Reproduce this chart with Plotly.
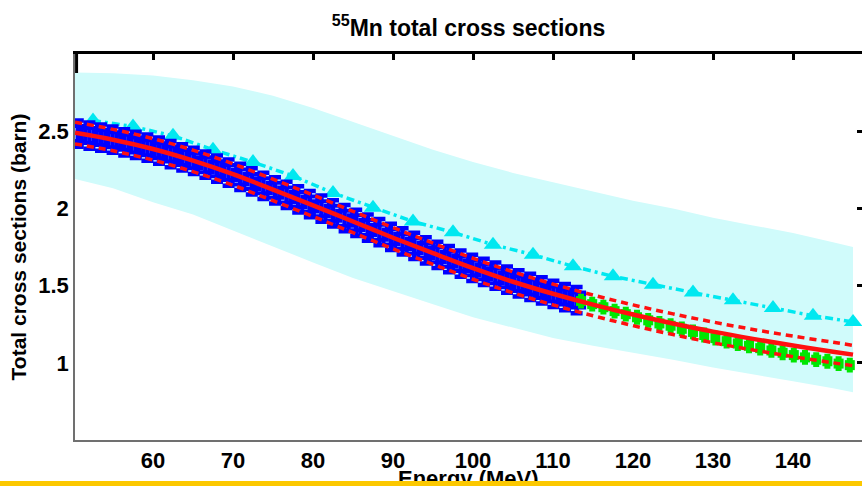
import plotly.graph_objects as go

# ---------------- data ----------------
band_E = [50.25, 55, 60, 65, 70, 75, 80, 85, 90, 95, 100, 105, 110, 115, 120, 125, 130, 135, 140, 145, 147.5]
band_upper = [2.88, 2.875, 2.86, 2.83, 2.79, 2.73, 2.65, 2.56, 2.47, 2.38, 2.30, 2.23, 2.17, 2.11, 2.05,
              2.00, 1.94, 1.89, 1.84, 1.78, 1.75]
band_lower = [2.19, 2.13, 2.04, 1.96, 1.855, 1.755, 1.65, 1.55, 1.465, 1.38, 1.295, 1.225, 1.16, 1.11,
              1.065, 1.02, 0.97, 0.925, 0.88, 0.835, 0.81]

red_E = [50.25, 55, 60, 65, 70, 75, 80, 85, 90, 95, 100, 105, 110, 115, 120, 125, 130, 135, 140, 145, 147.5]
red_mid = [2.49, 2.445, 2.385, 2.31, 2.222, 2.122, 2.02, 1.915, 1.81, 1.71, 1.613, 1.525, 1.447, 1.377,
           1.313, 1.255, 1.202, 1.155, 1.112, 1.072, 1.053]
red_up = [2.558, 2.512, 2.452, 2.377, 2.289, 2.189, 2.087, 1.981, 1.876, 1.775, 1.677, 1.589, 1.510,
          1.439, 1.375, 1.317, 1.264, 1.216, 1.173, 1.133, 1.113]
red_lo = [2.418, 2.373, 2.313, 2.238, 2.15, 2.05, 1.948, 1.843, 1.738, 1.638, 1.541, 1.453, 1.375,
          1.305, 1.241, 1.183, 1.130, 1.083, 1.040, 1.000, 0.981]

tri_E = [52.5, 57.5, 62.5, 67.5, 72.5, 77.5, 82.5, 87.5, 92.5, 97.5, 102.5, 107.5, 112.5, 117.5,
         122.5, 127.5, 132.5, 137.5, 142.5, 147.5]
tri_v = [2.57, 2.53, 2.47, 2.38, 2.30, 2.21, 2.10, 2.005, 1.915, 1.845, 1.765, 1.70, 1.625, 1.56,
         1.505, 1.455, 1.405, 1.355, 1.305, 1.265]

blue_E = [50.6, 52.05, 53.5, 54.95, 56.4, 57.85, 59.3, 60.75, 62.2, 63.65, 65.1, 66.55, 68.0, 69.45,
          70.9, 72.35, 73.8, 75.25, 76.7, 78.15, 79.6, 81.05, 82.5, 83.95, 85.4, 86.85, 88.3, 89.75,
          91.2, 92.65, 94.1, 95.55, 97.0, 98.45, 99.9, 101.35, 102.8, 104.25, 105.7, 107.15, 108.6,
          110.05, 111.5, 112.95]
blue_v = [2.485, 2.472, 2.459, 2.445, 2.428, 2.411, 2.393, 2.374, 2.352, 2.330, 2.308, 2.283, 2.257,
          2.232, 2.204, 2.175, 2.146, 2.117, 2.087, 2.058, 2.028, 1.998, 1.968, 1.937, 1.907, 1.876,
          1.846, 1.815, 1.786, 1.757, 1.728, 1.699, 1.671, 1.643, 1.615, 1.589, 1.564, 1.538, 1.514,
          1.491, 1.469, 1.446, 1.426, 1.406]
blue_err = 0.085

green_E = [113.5, 114.9, 116.3, 117.7, 119.1, 120.5, 121.9, 123.3, 124.7, 126.1, 127.5, 128.9, 130.3,
           131.7, 133.1, 134.5, 135.9, 137.3, 138.7, 140.1, 141.5, 142.9, 144.3, 145.7, 147.1]
green_v = [1.40, 1.38, 1.36, 1.335, 1.315, 1.295, 1.275, 1.255, 1.24, 1.22, 1.20, 1.18, 1.16, 1.14,
           1.125, 1.11, 1.095, 1.08, 1.065, 1.05, 1.035, 1.02, 1.01, 0.995, 0.985]
green_err = 0.035

x_ticks = [60, 70, 80, 90, 100, 110, 120, 130, 140]
y_ticks = [1, 1.5, 2, 2.5]
y_ticktext = ["1", "1.5", "2", "2.5"]
XR = [50.25, 148.625]
YR = [0.5, 3.0]

FONT = "Liberation Sans, Arial, Helvetica, sans-serif"
CYAN = "#00e8f0"
BLUE = "#0000ff"
GREEN = "#00e600"
RED = "#ff1010"

fig = go.Figure()

# uncertainty band
fig.add_trace(go.Scatter(
    x=band_E + band_E[::-1], y=band_upper + band_lower[::-1],
    fill="toself", fillcolor="#d0fbfb", line=dict(width=0), mode="lines",
    hoverinfo="skip"))

# cyan dash-dot with triangles
fig.add_trace(go.Scatter(
    x=tri_E, y=tri_v, mode="lines+markers",
    line=dict(color=CYAN, width=3.5, dash="8px,4px,3px,4px"),
    marker=dict(symbol="triangle-up", size=16, color=CYAN)))

# blue experimental data
fig.add_trace(go.Scatter(
    x=blue_E, y=blue_v, mode="markers",
    marker=dict(symbol="square-open", size=15, color=BLUE, line=dict(width=4, color=BLUE)),
    error_y=dict(type="constant", value=blue_err, color=BLUE, thickness=4.5, width=6)))

# green experimental data
fig.add_trace(go.Scatter(
    x=green_E, y=green_v, mode="markers",
    marker=dict(symbol="square", size=10, color=GREEN, line=dict(width=0)),
    error_y=dict(type="constant", value=green_err, color=GREEN, thickness=4, width=3)))

# red curves
fig.add_trace(go.Scatter(x=red_E, y=red_up, mode="lines", line_shape="spline",
                         line=dict(color=RED, width=3.5, dash="7px,5px")))
fig.add_trace(go.Scatter(x=red_E, y=red_lo, mode="lines", line_shape="spline",
                         line=dict(color=RED, width=3.5, dash="7px,5px")))
fig.add_trace(go.Scatter(x=red_E, y=red_mid, mode="lines", line_shape="spline",
                         line=dict(color=RED, width=4.5)))

# dummy trace for secondary axes
fig.add_trace(go.Scatter(x=[None], y=[None], xaxis="x2", yaxis="y2", hoverinfo="skip"))

fig.update_layout(
    width=862, height=486,
    margin=dict(l=75, r=0, t=54, b=46),
    paper_bgcolor="white", plot_bgcolor="white",
    showlegend=False,
    font=dict(family=FONT, color="black"),
    title=dict(text="<sup>55</sup>Mn total cross sections",
               font=dict(family=FONT, size=23, color="black", weight="bold"),
               x=0.5, xanchor="center", xref="paper", y=1 - 28 / 486, yref="container", yanchor="middle"),
    xaxis=dict(range=XR, tickvals=x_ticks, ticks="", showgrid=False, zeroline=False,
               showline=True, linecolor="#707070", linewidth=1.5,
               tickfont=dict(family=FONT, size=22, weight="bold", color="black")),
    yaxis=dict(range=YR, tickvals=y_ticks, ticktext=y_ticktext, ticks="", showgrid=False, zeroline=False,
               showline=True, linecolor="#707070", linewidth=1.5,
               tickfont=dict(family=FONT, size=22, weight="bold", color="black"),
               title=dict(text="Total cross sections (barn)", standoff=6,
                          font=dict(family=FONT, size=21, weight="bold", color="black"))),
    xaxis2=dict(range=XR, overlaying="x", side="top", anchor="y", tickvals=x_ticks,
                ticks="inside", ticklen=6, tickwidth=2.5, tickcolor="black",
                showticklabels=False, showgrid=False, zeroline=False,
                showline=True, linecolor="black", linewidth=3),
    yaxis2=dict(range=YR, overlaying="y", side="right", anchor="x", tickvals=[0.5, 1, 1.5, 2, 2.5],
                ticks="inside", ticklen=5, tickwidth=2.5, tickcolor="black",
                showticklabels=False, showgrid=False, zeroline=False, showline=False),
)

# small black segment on top of the left spine
fig.add_shape(type="line", xref="paper", yref="paper", x0=0.002, x1=0.002, y0=1, y1=1 - 19 / 386,
              line=dict(color="black", width=3))

# x-axis title (partially hidden by the bar at the bottom)
fig.add_annotation(text="Energy (MeV)", xref="paper", yref="paper", x=0.5, y=-(464 - 440) / 386,
                   xanchor="center", yanchor="top", showarrow=False,
                   font=dict(family=FONT, size=22, weight="bold", color="black"))
# yellow bar at bottom (drawn over the title)
fig.add_annotation(text=" ", xref="paper", yref="paper", x=0.5 - 75 / 787 / 2, y=-(486 - 440) / 386,
                   xanchor="center", yanchor="bottom", showarrow=False,
                   width=862, height=5, bgcolor="#fcc800", borderpad=0, borderwidth=0,
                   font=dict(size=1))

fig.write_html("out.html")
